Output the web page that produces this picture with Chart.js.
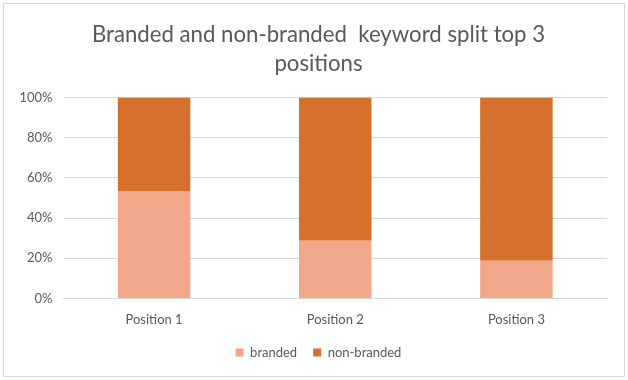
<!DOCTYPE html>
<html><head><meta charset="utf-8">
<script src="https://cdn.jsdelivr.net/npm/chart.js@4/dist/chart.umd.min.js"></script>
<style>
html,body{margin:0;padding:0;background:#fff;}
#wrap{position:absolute;left:0;top:0;width:628px;height:380px;}
#frame{position:absolute;left:3px;top:3px;width:620px;height:372px;border:1px solid #d9d9d9;pointer-events:none;}
canvas{position:absolute;left:0;top:0;}
</style></head>
<body>
<div id="wrap"><canvas id="c" width="628" height="380"></canvas><div id="frame"></div></div>
<script>
const categories = ["Position 1", "Position 2", "Position 3"];
const branded = [53.5, 28.7, 18.7];
const nonBranded = [46.5, 71.3, 81.3];
const yTicks = [0, 20, 40, 60, 80, 100];
const titleLines = ["Branded and non-branded  keyword split top 3", "positions"];

const FONT = "Lato, 'Open Sans', sans-serif";

// layout tweaks: centre title/legend on the whole frame, tighten legend vertically
const layoutTweak = {
  id: 'layoutTweak',
  beforeLayout(chart) {
    const lg = chart.legend;
    if (lg && !lg._tweaked) {
      const fit = lg.fit.bind(lg);
      lg.fit = function () { fit(); this.height -= 12; };
      lg._tweaked = true;
    }
  },
  afterLayout(chart) {
    const s = 30;
    if (chart.titleBlock) chart.titleBlock.left += s;
    if (chart.legend) { chart.legend.left += s; chart.legend.top -= 12; chart.legend.bottom -= 12; }
  }
};

new Chart(document.getElementById('c'), {
  type: 'bar',
  data: {
    labels: categories,
    datasets: [
      {label: 'branded', data: branded, backgroundColor: '#F1A78A', borderWidth: 0, barPercentage: 0.4, categoryPercentage: 1},
      {label: 'non-branded', data: nonBranded, backgroundColor: '#D46F2C', borderWidth: 0, barPercentage: 0.4, categoryPercentage: 1}
    ]
  },
  plugins: [layoutTweak],
  options: {
    responsive: false,
    animation: false,
    layout: {padding: {left: 0, right: 21, top: 16, bottom: 11}},
    plugins: {
      title: {display: true, text: titleLines, color: '#595959', font: {family: FONT, size: 22.2, weight: '400', lineHeight: 1.32}, padding: {top: 4, bottom: 19}},
      legend: {position: 'bottom', labels: {color: '#595959', font: {family: FONT, size: 13}, boxWidth: 8, boxHeight: 8, padding: 16}},
      tooltip: {enabled: false}
    },
    scales: {
      x: {stacked: true, grid: {display: false, drawTicks: false}, border: {color: '#d9d9d9'},
          ticks: {color: '#595959', font: {family: FONT, size: 13}, padding: 14}},
      y: {stacked: true, min: 0, max: 100, afterBuildTicks: ax => { ax.ticks = yTicks.map(v => ({value: v})); },
          afterFit: ax => { ax.width = 63.5; },
          grid: {color: '#d9d9d9', drawTicks: false, lineWidth: 1}, border: {display: false},
          ticks: {color: '#595959', font: {family: FONT, size: 13}, padding: 11, callback: v => v + '%'}}
    }
  }
});
</script>
</body></html>
